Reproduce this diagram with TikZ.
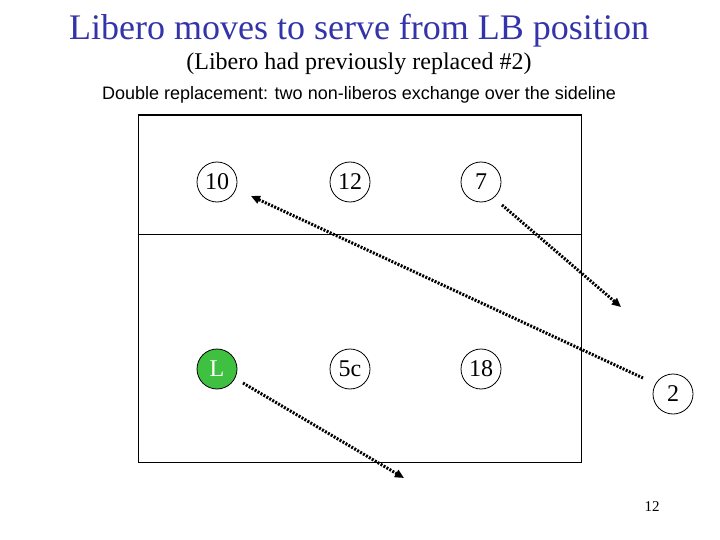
\documentclass[tikz,border=0pt]{standalone}
\usepackage{fontspec}
\setmainfont{Liberation Serif}
\newfontfamily\arialfont{Liberation Sans}
\usetikzlibrary{arrows.meta}
\definecolor{titleblue}{RGB}{51,51,170}
\definecolor{libgreen}{RGB}{64,192,64}
\tikzset{
  player/.style={circle, draw=black, line width=0.8pt, minimum size=40pt, inner sep=0pt, font=\fontsize{24}{26}\selectfont},
  libero/.style={player, fill=libgreen, text=white},
  move/.style={line width=3pt, dash pattern=on 2pt off 1.4pt, -{Triangle[length=9pt,width=8pt]}},
}
\begin{document}
\begin{tikzpicture}[x=1pt,y=-1pt]
\useasboundingbox (0,0) rectangle (720,540);
\node[text=titleblue, font=\fontsize{36}{40}\selectfont] (title) at (359,31) {Libero moves to serve from LB position};
\node[font=\fontsize{24}{28}\selectfont] (sub) at (359,64) {(Libero had previously replaced \#2)};
\node[font=\arialfont\fontsize{18}{20}\selectfont] (dbl) at (359,95) {Double replacement: two non-liberos exchange over the sideline};
% court
\draw[line width=1pt] (138,115) rectangle (581,462);
\draw[line width=2.5pt] (138,115) -- (581,115);
\draw[line width=1pt] (138,234) -- (581,234);
% players
\node[player] (p10) at (217,182) {10};
\node[player] (p12) at (350,182) {12};
\node[player] (p7) at (481,182) {7};
\node[libero] (pL) at (217,369) {L};
\node[player] (p5c) at (350,369) {5c};
\node[player] (p18) at (481,369) {18};
\node[player] (p2) at (673,394) {2};
% arrow endpoints
\coordinate (a1s) at (643,378);
\coordinate (a1e) at (251,196);
\coordinate (a2s) at (502,205);
\coordinate (a2e) at (621,307);
\coordinate (a3s) at (243,383);
\coordinate (a3e) at (404,478);
\draw[move] (a1s) -- (a1e);
\draw[move] (a2s) -- (a2e);
\draw[move] (a3s) -- (a3e);
\node[font=\fontsize{15}{17}\selectfont] (pg) at (652,507) {12};
\end{tikzpicture}
\end{document}
